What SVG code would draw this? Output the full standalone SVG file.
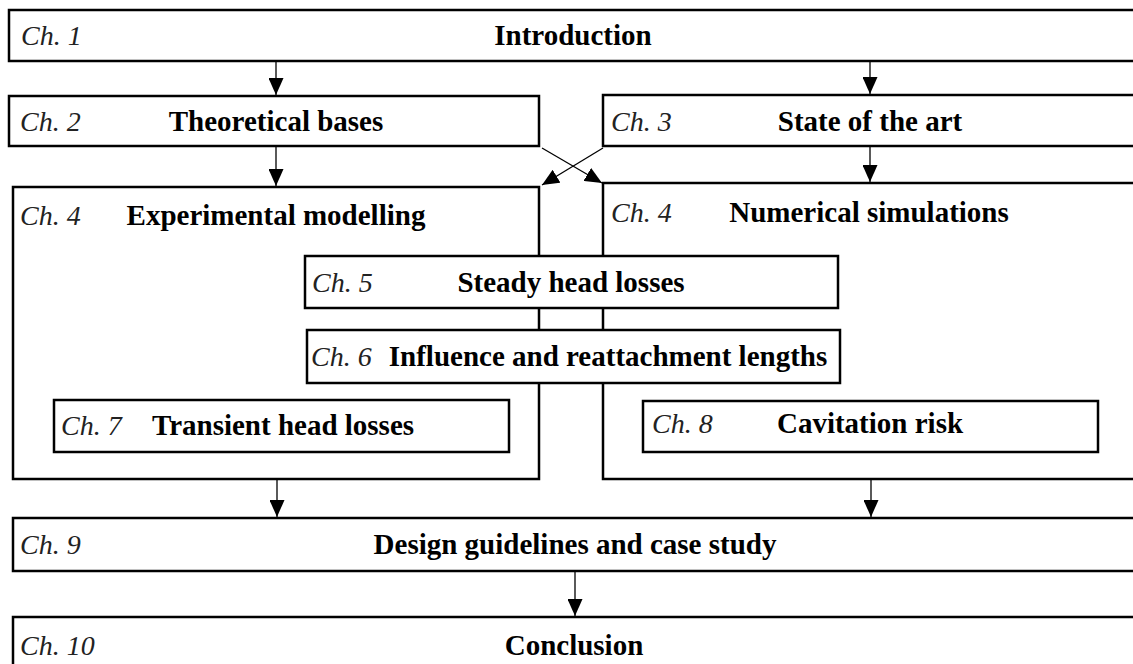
<svg xmlns="http://www.w3.org/2000/svg" width="1133" height="664" viewBox="0 0 1133 664">
<style>
.box{fill:#fff;stroke:#000;stroke-width:2.5}
.ch{font-family:"Liberation Serif","Times New Roman",serif;font-style:italic;font-size:28px;fill:#222}
.t{font-family:"Liberation Serif","Times New Roman",serif;font-weight:bold;font-size:29px;fill:#000;text-anchor:middle}
.c{stroke:#000;stroke-width:1.3;fill:none;marker-end:url(#ah)}
</style>
<defs>
<marker id="ah" markerUnits="userSpaceOnUse" markerWidth="17" markerHeight="15" refX="17" refY="7.5" orient="auto" viewBox="0 0 17 15">
<path d="M0,0 L17,7.5 L0,15 z" fill="#000"/>
</marker>
</defs>
<rect width="1133" height="664" fill="#fff"/>
<g id="n1"><rect class="box" x="9" y="10" width="1140" height="51"/><text class="ch" x="21" y="45">Ch. 1</text><text class="t" x="573" y="45">Introduction</text></g>
<g id="n2"><rect class="box" x="9" y="96" width="530" height="50"/><text class="ch" x="20" y="131">Ch. 2</text><text class="t" x="276" y="131">Theoretical bases</text></g>
<g id="n3"><rect class="box" x="603" y="95" width="545" height="51"/><text class="ch" x="611" y="131">Ch. 3</text><text class="t" x="870" y="131">State of the art</text></g>
<g id="n4a"><rect class="box" x="13" y="187" width="526" height="292"/><text class="ch" x="20" y="225">Ch. 4</text><text class="t" x="276" y="225">Experimental modelling</text></g>
<g id="n4b"><rect class="box" x="603" y="183" width="545" height="296"/><text class="ch" x="611" y="222">Ch. 4</text><text class="t" x="869" y="222">Numerical simulations</text></g>
<g id="n5"><rect class="box" x="305" y="256" width="533" height="52"/><text class="ch" x="312" y="292">Ch. 5</text><text class="t" x="571" y="292">Steady head losses</text></g>
<g id="n6"><rect class="box" x="307" y="330" width="533" height="53"/><text class="ch" x="311" y="366">Ch. 6</text><text class="t" x="608" y="366">Influence and reattachment lengths</text></g>
<g id="n7"><rect class="box" x="54" y="400" width="455" height="52"/><text class="ch" x="61" y="435">Ch. 7</text><text class="t" x="283" y="435">Transient head losses</text></g>
<g id="n8"><rect class="box" x="643" y="401" width="455" height="51"/><text class="ch" x="652" y="433">Ch. 8</text><text class="t" x="870" y="433">Cavitation risk</text></g>
<g id="n9"><rect class="box" x="13" y="518" width="1140" height="53"/><text class="ch" x="20" y="554">Ch. 9</text><text class="t" x="575" y="554">Design guidelines and case study</text></g>
<g id="n10"><rect class="box" x="13" y="617" width="1140" height="60"/><text class="ch" x="20" y="655">Ch. 10</text><text class="t" x="574" y="655">Conclusion</text></g>
<g id="connectors">
<line class="c" x1="276" y1="62" x2="276" y2="95"/>
<line class="c" x1="870" y1="62" x2="870" y2="94"/>
<line class="c" x1="276" y1="147" x2="276" y2="186"/>
<line class="c" x1="870" y1="147" x2="870" y2="182"/>
<line class="c" x1="542" y1="148" x2="602" y2="183"/>
<line class="c" x1="603" y1="148" x2="542" y2="185"/>
<line class="c" x1="277" y1="480" x2="277" y2="517"/>
<line class="c" x1="871" y1="480" x2="871" y2="517"/>
<line class="c" x1="575" y1="572" x2="575" y2="616"/>
</g>
</svg>
